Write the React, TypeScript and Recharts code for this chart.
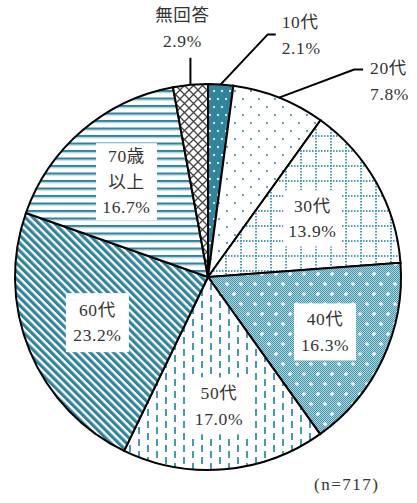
import { PieChart, Pie, Cell } from 'recharts';

const categories = ['10代', '20代', '30代', '40代', '50代', '60代', '70歳以上', '無回答'];
const shares = [2.1, 7.8, 13.9, 16.3, 17.0, 23.2, 16.7, 2.9];
const sampleNote = '(n=717)';

const data = categories.map((name, i) => ({ name, value: shares[i] }));

const TEAL = '#31849b';
const FONT = "'Liberation Serif', 'Noto Sans CJK JP', serif";
const FS = 17.5;
const RAD = Math.PI / 180;

// fills per slice (clockwise from top)
const fills = ['url(#p10)', 'url(#p20)', 'url(#p30)', 'url(#p40)', 'url(#p50)', 'url(#p60)', 'url(#p70)', 'url(#pna)'];

// label placement: inside slices use a radius factor + box size, outside ones use a leader line
type LabelCfg =
  | { kind: 'in'; r: number; w: number; h: number; lines: string[] }
  | { kind: 'out'; path: [number, number][]; tx: number; ty: number; anchor: 'start' | 'middle' };

const labelCfg: LabelCfg[] = [
  { kind: 'out', path: [[0, 0], [47, -50], [55, -50]], tx: 61, ty: -62, anchor: 'start' },
  { kind: 'out', path: [[0, 0], [75, -28], [84, -28]], tx: 91, ty: -30, anchor: 'start' },
  { kind: 'in', r: 0.62, w: 58, h: 56, lines: [] },
  { kind: 'in', r: 0.67, w: 62, h: 57, lines: [] },
  { kind: 'in', r: 0.67, w: 62, h: 57, lines: [] },
  { kind: 'in', r: 0.62, w: 63, h: 59, lines: [] },
  { kind: 'in', r: 0.65, w: 61, h: 77, lines: ['70歳', '以上'] },
  { kind: 'out', path: [[0, 0], [0, -27]], tx: -8, ty: -70, anchor: 'middle' },
];

function renderLabel(props: any) {
  const { cx, cy, midAngle, outerRadius, index } = props;
  const cfg = labelCfg[index];
  const pct = shares[index].toFixed(1) + '%';
  const cos = Math.cos(-midAngle * RAD);
  const sin = Math.sin(-midAngle * RAD);
  if (cfg.kind === 'in') {
    const x = cx + outerRadius * cfg.r * cos;
    const y = cy + outerRadius * cfg.r * sin;
    const lines = cfg.lines.length ? [...cfg.lines, pct] : [categories[index], pct];
    const lh = 25.5;
    const top = y - ((lines.length - 1) * lh) / 2;
    return (
      <g key={'l' + index}>
        <rect x={x - cfg.w / 2} y={y - cfg.h / 2} width={cfg.w} height={cfg.h} fill="#fff" />
        {lines.map((t, k) => (
          <text key={k} x={x} y={top + k * lh} textAnchor="middle" dominantBaseline="central"
            fontFamily={FONT} fontSize={FS} letterSpacing={0.6} fill="#333">{t}</text>
        ))}
      </g>
    );
  }
  const ax = cx + outerRadius * cos;
  const ay = cy + outerRadius * sin;
  const pts = cfg.path.map(([dx, dy]) => `${ax + dx},${ay + dy}`).join(' ');
  return (
    <g key={'l' + index}>
      <polyline points={pts} fill="none" stroke="#000" strokeWidth={2} />
      {[categories[index], pct].map((t, k) => (
        <text key={k} x={ax + cfg.tx} y={ay + cfg.ty + k * 26} textAnchor={cfg.anchor} dominantBaseline="central"
          fontFamily={FONT} fontSize={FS} letterSpacing={0.6} fill="#333">{t}</text>
      ))}
    </g>
  );
}

export default function App() {
  return (
    <div style={{ position: 'absolute', left: 0, top: 0, width: 417, height: 503, background: '#fff' }}>
      <PieChart width={417} height={503} margin={{ top: 0, right: 0, bottom: 0, left: 0 }}>
        <defs>
          <pattern id="p10" width="8" height="16" patternUnits="userSpaceOnUse">
            <rect width="8" height="16" fill={TEAL} />
            <rect x="1" y="2" width="2" height="2" fill="#fff" opacity="0.85" />
            <rect x="5" y="10" width="2" height="2" fill="#fff" opacity="0.85" />
          </pattern>
          <pattern id="p20" width="16" height="16" patternUnits="userSpaceOnUse">
            <rect width="16" height="16" fill="#fff" />
            <rect x="2" y="2" width="2" height="2" fill="#5aa3b6" />
            <rect x="10" y="10" width="2" height="2" fill="#5aa3b6" />
          </pattern>
          <pattern id="p30" width="15" height="15" patternUnits="userSpaceOnUse">
            <rect width="15" height="15" fill="#fff" />
            <line x1="1" y1="0" x2="1" y2="15" stroke="#4e9bb0" strokeWidth="2" strokeDasharray="1.5 1.5" />
            <line x1="0" y1="1" x2="15" y2="1" stroke="#4e9bb0" strokeWidth="2" strokeDasharray="1.5 1.5" />
          </pattern>
          <pattern id="chk" width="2" height="2" patternUnits="userSpaceOnUse">
            <rect width="2" height="2" fill="#afd6df" />
            <rect width="1" height="1" fill="#4795ab" />
            <rect x="1" y="1" width="1" height="1" fill="#4795ab" />
          </pattern>
          <pattern id="p40" width="14" height="20" patternUnits="userSpaceOnUse">
            <rect width="14" height="20" fill="url(#chk)" />
            <path d="M3 2v4M1 4h4" stroke="#fff" strokeWidth="1.3" />
            <path d="M10 12v4M8 14h4" stroke="#fff" strokeWidth="1.3" />
          </pattern>
          <pattern id="p50" width="18" height="24" patternUnits="userSpaceOnUse">
            <rect width="18" height="24" fill="#fff" />
            <rect x="3" y="1" width="2" height="7" fill="#4a98ad" />
            <rect x="3" y="13" width="2" height="7" fill="#4a98ad" />
            <rect x="12" y="7" width="2" height="7" fill="#4a98ad" />
            <rect x="12" y="19" width="2" height="7" fill="#4a98ad" />
            <rect x="12" y="-5" width="2" height="7" fill="#4a98ad" />
          </pattern>
          <pattern id="p60" width="5.5" height="10" patternUnits="userSpaceOnUse" patternTransform="rotate(-45)">
            <rect width="5.5" height="10" fill="#fff" />
            <rect width="3.2" height="10" fill={TEAL} />
          </pattern>
          <pattern id="p70" width="10" height="7.5" patternUnits="userSpaceOnUse">
            <rect width="10" height="7.5" fill="#fff" />
            <rect y="0" width="10" height="2.2" fill={TEAL} />
            <rect y="2.2" width="10" height="1" fill="#a9d0da" />
          </pattern>
          <pattern id="pna" width="9" height="9" patternUnits="userSpaceOnUse">
            <rect width="9" height="9" fill="#fff" />
            <path d="M-1 -1L10 10M-1 10L10 -1" stroke="#444" strokeWidth="1.3" />
          </pattern>
        </defs>
        <Pie
          data={data}
          dataKey="value"
          nameKey="name"
          cx={208}
          cy={277}
          outerRadius={193}
          startAngle={90}
          endAngle={-270}
          stroke="#000"
          strokeWidth={2}
          label={renderLabel}
          labelLine={false}
          isAnimationActive={false}
        >
          {data.map((d, i) => (
            <Cell key={d.name} fill={fills[i]} />
          ))}
        </Pie>
      </PieChart>
      <div style={{ position: 'absolute', left: 314, top: 475, fontFamily: FONT, fontSize: 17, letterSpacing: 1.5, color: '#333' }}>
        {sampleNote}
      </div>
    </div>
  );
}
